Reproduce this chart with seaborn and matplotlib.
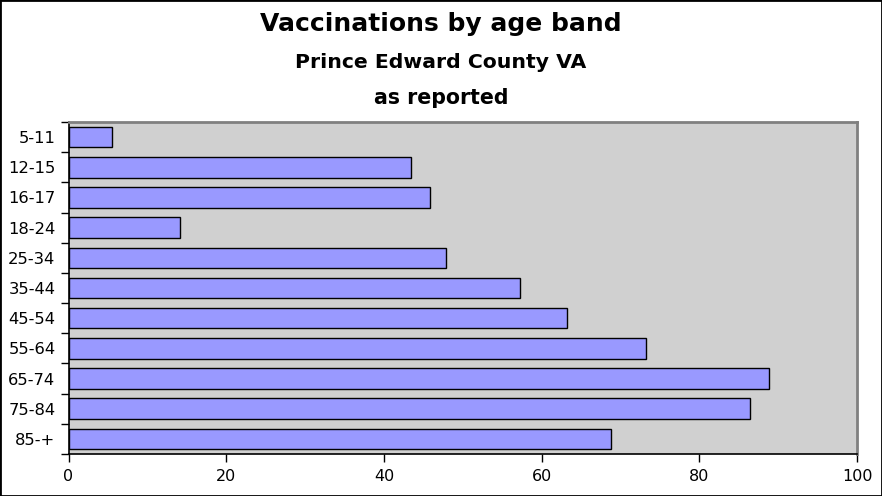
import matplotlib
matplotlib.use("Agg")
import matplotlib.pyplot as plt
import seaborn as sns
import pandas as pd
from matplotlib.patches import Rectangle

categories = ["5-11", "12-15", "16-17", "18-24", "25-34", "35-44", "45-54",
              "55-64", "65-74", "75-84", "85-+"]
values = [5.5, 43.5, 45.8, 14.2, 47.9, 57.3, 63.2, 73.2, 88.8, 86.4, 68.8]
xticks = [0, 20, 40, 60, 80, 100]

sns.set_theme(style="white")
plt.rcParams['font.family'] = ['DejaVu Sans']
plt.rcParams['text.color'] = 'black'
plt.rcParams['xtick.color'] = 'black'
plt.rcParams['ytick.color'] = 'black'

df = pd.DataFrame({"band": categories, "pct": values})

fig = plt.figure(figsize=(8.82, 4.96), dpi=100)
ax = fig.add_axes([68.5/882, 1 - 454/496, (857-68.5)/882, (454-122)/496])
sns.barplot(data=df, y="band", x="pct", order=categories, orient="h",
            color="#9999FF", saturation=1, edgecolor="black", linewidth=1,
            width=0.68, ax=ax)
ax.set_facecolor("#D0D0D0")
ax.set_xlim(0, 100)
ax.set_ylim(len(categories) - 0.5, -0.5)
ax.set_xticks(xticks)
ax.set_xticklabels([str(t) for t in xticks], fontsize=11.5, color="black")
ax.set_yticks(range(len(categories)))
ax.set_yticklabels(categories, fontsize=11.8, color="black")
ax.tick_params(axis="y", length=0, pad=9.4)
ax.tick_params(axis="x", length=6, width=1, color="black", direction="out", pad=5, bottom=True)
# category boundary ticks on y axis
ax.set_yticks([i - 0.5 for i in range(len(categories) + 1)], minor=True)
ax.tick_params(axis="y", which="minor", length=6, width=1, color="black", left=True)
ax.set_xlabel("")
ax.set_ylabel("")
for s in ["left", "bottom"]:
    ax.spines[s].set_color("black")
    ax.spines[s].set_linewidth(1.2)
for s in ["top", "right"]:
    ax.spines[s].set_color("#808080")
    ax.spines[s].set_linewidth(2)

fig.text(0.5, 1 - 24/496, "Vaccinations by age band", ha="center", va="center",
         fontsize=18, fontweight="bold", color="black")
fig.text(0.5, 1 - 62/496, "Prince Edward County VA", ha="center", va="center",
         fontsize=14.7, fontweight="bold", color="black")
fig.text(0.5, 1 - 98/496, "as reported", ha="center", va="center",
         fontsize=14.8, fontweight="bold", color="black")

fig.patches.append(Rectangle((0, 0), 1, 1, transform=fig.transFigure, fill=False,
                             edgecolor="black", linewidth=2))
fig.savefig("out.png", dpi=100)
